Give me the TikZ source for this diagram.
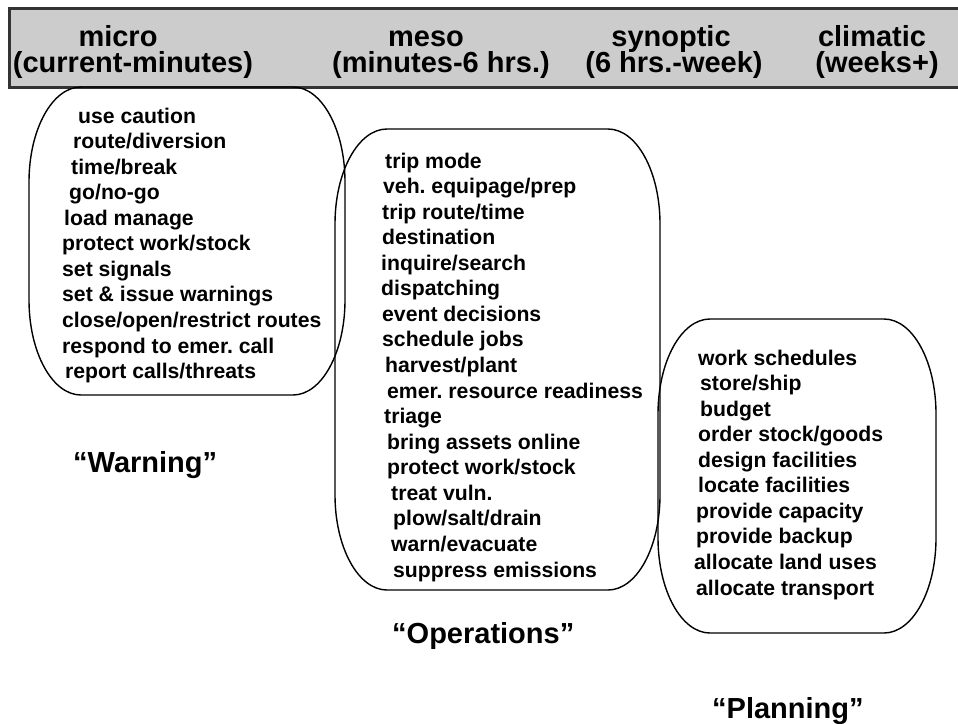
\documentclass[tikz,border=0pt]{standalone}
\usepackage{fontspec}
\setmainfont{Liberation Sans}
\definecolor{barfill}{RGB}{204,204,204}
\definecolor{bardraw}{RGB}{51,51,51}
\frenchspacing
\begin{document}
\begin{tikzpicture}[x=1pt,y=-1pt,
  item/.style={anchor=base west, inner sep=0pt, font=\fontsize{21.2}{25}\selectfont\bfseries\frenchspacing},
  head/.style={anchor=base, inner sep=0pt, font=\fontsize{29}{24}\selectfont\bfseries},
  headtop/.style={head, text depth=0pt},
  headlow/.style={head, text height=16pt},
  tag/.style={anchor=base west, inner sep=0pt, font=\fontsize{29}{30}\selectfont\bfseries},
  zone/.style={draw=black, line width=1.4pt},
  bar/.style={fill=barfill, draw=bardraw, line width=3pt},
  crn/.style={x radius=52pt, y radius=95pt}]
\useasboundingbox (0,0) rectangle (958,723);
\clip (0,0) rectangle (958,723);
\fill[white] (0,0) rectangle (958,723);

% header bar
\draw[bar] (9,8.5) rectangle (975,87);
\node[headtop] (h1a) at (118,46.5) {micro};
\node[headlow] (h1b) at (133,72) {(current-minutes)};
\node[headtop] (h2a) at (426,46.5) {meso};
\node[headlow] (h2b) at (441,72) {(minutes-6 hrs.)};
\node[headtop] (h3a) at (671,46.5) {synoptic};
\node[headlow] (h3b) at (674,72) {(6 hrs.-week)};
\node[headtop] (h4a) at (872,46.5) {climatic};
\node[headlow] (h4b) at (877,72) {(weeks+)};

% zone outlines
\draw[zone] (81,87) -- (293,87) arc[start angle=90,end angle=0,crn] -- (345,300)
  arc[start angle=0,end angle=-90,crn] -- (81,395)
  arc[start angle=270,end angle=180,crn] -- (29,182)
  arc[start angle=180,end angle=90,crn] -- cycle;
\draw[zone] (387,129) -- (608,129) arc[start angle=90,end angle=0,crn] -- (660,495)
  arc[start angle=0,end angle=-90,crn] -- (387,590)
  arc[start angle=270,end angle=180,crn] -- (335,224)
  arc[start angle=180,end angle=90,crn] -- cycle;
\draw[zone] (710,319) -- (884,319) arc[start angle=90,end angle=0,crn] -- (936,538)
  arc[start angle=0,end angle=-90,crn] -- (710,633)
  arc[start angle=270,end angle=180,crn] -- (658,414)
  arc[start angle=180,end angle=90,crn] -- cycle;

% micro list
\node[item] (a1) at (78,123) {use caution};
\node[item] (a2) at (73,148.6) {route/diversion};
\node[item] (a3) at (71,174.1) {time/break};
\node[item] (a4) at (69,199.7) {go/no-go};
\node[item] (a5) at (64,225.2) {load manage};
\node[item] (a6) at (62,250.8) {protect work/stock};
\node[item] (a7) at (62,276.4) {set signals};
\node[item] (a8) at (62,301.9) {set \& issue warnings};
\node[item] (a9) at (62,327.5) {close/open/restrict routes};
\node[item] (a10) at (62,353.0) {respond to emer. call};
\node[item] (a11) at (65,378.6) {report calls/threats};

% meso list
\node[item] (b1) at (385,168) {trip mode};
\node[item] (b2) at (383,193.6) {veh. equipage/prep};
\node[item] (b3) at (382,219.1) {trip route/time};
\node[item] (b4) at (382,244.7) {destination};
\node[item] (b5) at (381,270.2) {inquire/search};
\node[item] (b6) at (381,295.8) {dispatching};
\node[item] (b7) at (382,321.4) {event decisions};
\node[item] (b8) at (382,346.9) {schedule jobs};
\node[item] (b9) at (385,372.5) {harvest/plant};
\node[item] (b10) at (387,398.0) {emer. resource readiness};
\node[item] (b11) at (384,423.6) {triage};
\node[item] (b12) at (387,449.2) {bring assets online};
\node[item] (b13) at (387,474.7) {protect work/stock};
\node[item] (b14) at (391,500.3) {treat vuln.};
\node[item] (b15) at (393,525.8) {plow/salt/drain};
\node[item] (b16) at (391,551.4) {warn/evacuate};
\node[item] (b17) at (393,577) {suppress emissions};

% planning list
\node[item] (c1) at (698,365) {work schedules};
\node[item] (c2) at (700,390.6) {store/ship};
\node[item] (c3) at (700,416.1) {budget};
\node[item] (c4) at (698,441.7) {order stock/goods};
\node[item] (c5) at (698,467.2) {design facilities};
\node[item] (c6) at (698,492.8) {locate facilities};
\node[item] (c7) at (696,518.4) {provide capacity};
\node[item] (c8) at (696,543.9) {provide backup};
\node[item] (c9) at (694,569.5) {allocate land uses};
\node[item] (c10) at (696,595) {allocate transport};

% category labels
\node[tag] (warn) at (73,472) {“Warning”};
\node[tag] (oper) at (392,643) {“Operations”};
\node[tag] (plan) at (712,718) {“Planning”};
\end{tikzpicture}
\end{document}
